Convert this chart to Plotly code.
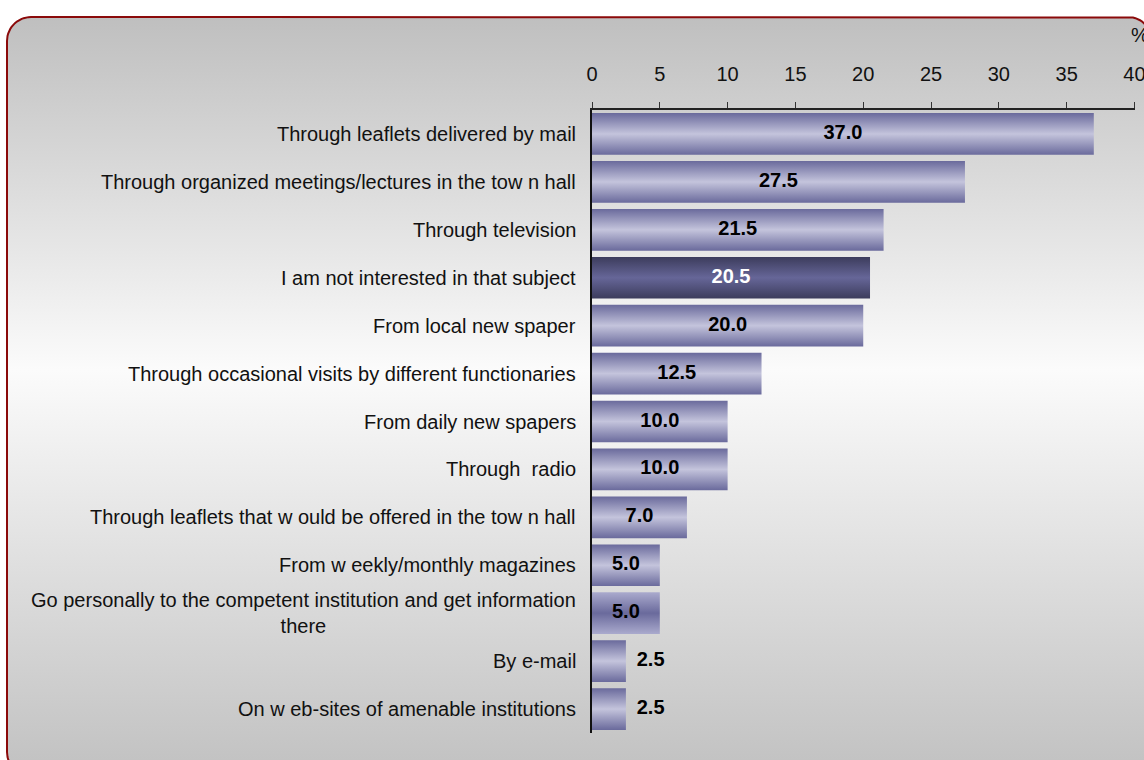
import numpy as np
import plotly.graph_objects as go

# Survey answers: preferred channels for receiving information (%)
categories = [
    "Through leaflets delivered by mail",
    "Through organized meetings/lectures in the tow n hall",
    "Through television",
    "I am not interested in that subject",
    "From local new spaper",
    "Through occasional visits by different functionaries",
    "From daily new spapers",
    "Through  radio",
    "Through leaflets that w ould be offered in the tow n hall",
    "From w eekly/monthly magazines",
    "Go personally to the competent institution and get information<br>there",
    "By e-mail",
    "On w eb-sites of amenable institutions",
]
values = [37.0, 27.5, 21.5, 20.5, 20.0, 12.5, 10.0, 10.0, 7.0, 5.0, 5.0, 2.5, 2.5]
bar_style = ["normal", "normal", "normal", "dark", "normal", "normal", "normal",
             "normal", "normal", "normal", "inverted", "normal", "normal"]
x_ticks = [0, 5, 10, 15, 20, 25, 30, 35, 40]

W, H = 1144, 760
FONT = "Liberation Sans, Arial, sans-serif"

gradients = {
    "normal": [[0, "#6a6a9c"], [0.5, "#c4c4dc"], [1, "#6a6a9c"]],
    "dark": [[0, "#3c3c5c"], [0.5, "#666698"], [1, "#3c3c5c"]],
    "inverted": [[0, "#aaaacd"], [0.5, "#6a6a9c"], [1, "#aaaacd"]],
}

fig = go.Figure()

# ---- panel background: rounded frame with vertical grey gradient ----
x0, y0, x1, y1, r = 7, 17, 1152, 776, 24
def arc(cx, cy, a0, a1):
    t = np.linspace(a0, a1, 16)
    return cx + r * np.cos(t), cy + r * np.sin(t)
segs = [arc(x0 + r, y0 + r, np.pi, 1.5 * np.pi),
        arc(x1 - r, y0 + r, 1.5 * np.pi, 2 * np.pi),
        arc(x1 - r, y1 - r, 0, 0.5 * np.pi),
        arc(x0 + r, y1 - r, 0.5 * np.pi, np.pi)]
fx = np.concatenate([s[0] for s in segs] + [segs[0][0][:1]])
fy = np.concatenate([s[1] for s in segs] + [segs[0][1][:1]])
fig.add_trace(go.Scatter(
    x=fx, y=fy, mode="lines", fill="toself",
    line=dict(color="#8b0a0a", width=2),
    fillgradient=dict(type="vertical", start=y0, stop=H,
                      colorscale=[[0, "#bfbfbf"], [0.475, "#fbfbfb"], [1, "#c3c3c3"]]),
    hoverinfo="skip", showlegend=False, xaxis="x", yaxis="y"))

# ---- bars ----
half = 0.435
for i, (cat, v, st) in enumerate(zip(categories, values, bar_style)):
    fig.add_trace(go.Scatter(
        x=[0, v, v, 0, 0], y=[i - half, i - half, i + half, i + half, i - half],
        mode="lines", fill="toself", line=dict(width=0, color="rgba(0,0,0,0)"),
        fillgradient=dict(type="vertical", colorscale=gradients[st]),
        name=cat.replace("<br>", " "), hoverinfo="name", showlegend=False,
        xaxis="x2", yaxis="y2"))

# value labels: centred inside wide bars, just past the end of short ones
lab_x, lab_pos, lab_col = [], [], []
for v, st in zip(values, bar_style):
    if v >= 5:
        lab_x.append(v / 2); lab_pos.append("middle center")
    else:
        lab_x.append(v + 0.8); lab_pos.append("middle right")
    lab_col.append("white" if st == "dark" else "black")
fig.add_trace(go.Scatter(
    x=lab_x, y=list(range(len(values))), mode="text",
    text=[f"{v:.1f}" for v in values], textposition=lab_pos,
    textfont=dict(family=FONT, size=20, color=lab_col, weight="bold"),
    hoverinfo="skip", showlegend=False, xaxis="x2", yaxis="y2"))

# category labels
annotations = []
for i, cat in enumerate(categories):
    annotations.append(dict(
        x=0, xref="x2 domain", y=i, yref="y2", text=cat, showarrow=False,
        xanchor="right", yanchor="middle", align="center", xshift=-14,
        font=dict(family=FONT, size=20, color="#111111")))
annotations.append(dict(
    x=1, xref="x2 domain", y=1 - 35 / H, yref="paper", text="%", showarrow=False,
    xanchor="left", yanchor="middle", xshift=-6,
    font=dict(family=FONT, size=20, color="#111111")))

n = len(categories)
fig.update_layout(
    width=W, height=H, margin=dict(l=0, r=0, t=0, b=0, autoexpand=False),
    paper_bgcolor="white", plot_bgcolor="rgba(0,0,0,0)",
    xaxis=dict(domain=[0, 1], range=[0, W], visible=False, fixedrange=True,
               automargin=False),
    yaxis=dict(domain=[0, 1], range=[H, 0], visible=False, fixedrange=True,
               automargin=False),
    xaxis2=dict(domain=[592 / W, 1134.5 / W], range=[0, 40.001], side="top",
                anchor="y2", tickvals=x_ticks, ticks="outside", ticklen=6,
                tickcolor="#333333", tickwidth=1, showline=True,
                linecolor="#222222", linewidth=1.5, showgrid=False,
                zeroline=False, ticklabelstandoff=13, ticklabeloverflow="allow",
                automargin=False,
                tickfont=dict(family=FONT, size=20, color="#111111")),
    yaxis2=dict(domain=[1 - 733 / H, 1 - 110 / H], range=[n - 0.5, -0.5],
                anchor="x2", showline=True, linecolor="#111111", linewidth=1.5,
                showticklabels=False, ticks="", showgrid=False, zeroline=False,
                automargin=False),
    annotations=annotations,
)

fig.write_html("out.html")
